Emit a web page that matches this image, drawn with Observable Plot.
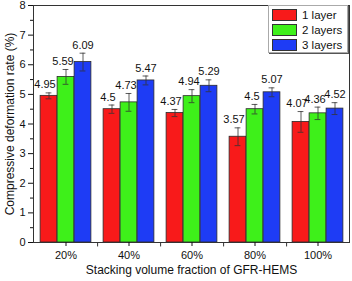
<!DOCTYPE html>
<html><head><meta charset="utf-8">
<script src="https://cdn.jsdelivr.net/npm/d3@7"></script>
<script src="https://cdn.jsdelivr.net/npm/@observablehq/plot@0.6"></script>
<style>
body{margin:0;background:#fff;}
#wrap{position:relative;width:352px;height:281px;font-family:"Liberation Sans",Arial,sans-serif;}
#legend{position:absolute;left:268px;top:5px;width:78px;height:46px;border:1px solid #aaa;box-shadow:1px 1px 0 #555;background:#fff;}
.row{position:absolute;left:3px;height:13px;display:flex;align-items:center;font-size:11.5px;color:#111;}
.sw{width:25px;height:12px;border:1px solid #333;box-sizing:border-box;margin-right:5px;}
</style>
</head><body>
<div id="wrap"></div>
<script>
const categories = ["20%", "40%", "60%", "80%", "100%"];
const seriesNames = ["1 layer", "2 layers", "3 layers"];
const layer1 = [4.95, 4.5, 4.37, 3.57, 4.07];
const layer2 = [5.59, 4.73, 4.94, 4.5, 4.36];
const layer3 = [6.09, 5.47, 5.29, 5.07, 4.52];
const err1 = [0.1, 0.14, 0.12, 0.3, 0.35];
const err2 = [0.25, 0.3, 0.22, 0.16, 0.21];
const err3 = [0.3, 0.15, 0.2, 0.15, 0.2];
const yTicks = [0, 1, 2, 3, 4, 5, 6, 7, 8];
const colors = ["#f81a1a", "#3ef01a", "#1e3cf5"];

const W = 352, H = 281, ML = 33, MR = 3, MT = 5, MB = 39;
const step = (W - ML - MR) / categories.length;
const barW = 17;
const inset = (step - barW) / 2;
const capInset = (step - 6) / 2;
const labelDx = [-4, -3, 0];

const values = [layer1, layer2, layer3];
const errs = [err1, err2, err3];

const marks = [];
values.forEach((vals, i) => {
  const rows = categories.map((c, j) => ({cat: c, value: vals[j], err: errs[i][j]}));
  const dx = (i - 1) * barW;
  marks.push(Plot.barY(rows, {x: "cat", y: "value", fill: colors[i], stroke: "#2a2a2a", strokeWidth: 0.8, insetLeft: inset, insetRight: inset, dx}));
  marks.push(Plot.ruleX(rows, {x: "cat", y1: d => d.value - d.err, y2: d => d.value + d.err, stroke: "#333", strokeWidth: 0.8, dx}));
  marks.push(Plot.tickY(rows, {x: "cat", y: d => d.value - d.err, stroke: "#333", strokeWidth: 0.8, insetLeft: capInset, insetRight: capInset, dx}));
  marks.push(Plot.tickY(rows, {x: "cat", y: d => d.value + d.err, stroke: "#333", strokeWidth: 0.8, insetLeft: capInset, insetRight: capInset, dx}));
  marks.push(Plot.text(rows, {x: "cat", y: d => d.value + d.err, text: d => String(d.value), dy: -8, dx: dx + labelDx[i], fontSize: 11, fill: "#111"}));
});

const chart = Plot.plot({
  width: W, height: H,
  marginLeft: ML, marginRight: MR, marginTop: MT, marginBottom: MB,
  style: {fontFamily: '"Liberation Sans", Arial, sans-serif', fontSize: "11px", background: "#fff", color: "#111", overflow: "visible"},
  x: {domain: categories, padding: 0, label: null},
  y: {domain: [0, 8], label: null},
  marks: [
    ...marks,
    Plot.frame({stroke: "#333", strokeWidth: 1}),
    Plot.axisY({ticks: yTicks, tickSize: 5, tickPadding: 3, fontSize: 11, label: null}),
    Plot.axisY({ticks: d3.range(0.5, 8, 1), tickSize: 3, text: null, label: null}),
    Plot.axisX({tickSize: 4, tickPadding: 5, fontSize: 11, label: null}),
    Plot.ruleX(categories.slice(0, -1), {x: d => d, dx: step / 2, y1: 0, y2: -0.15, stroke: "#333"}),
    Plot.text(["Stacking volume fraction of GFR-HEMS"], {frameAnchor: "bottom", dy: 31, text: d => d, fontSize: 12, fill: "#111"}),
    Plot.text(["Compressive deformation rate (%)"], {frameAnchor: "left", textAnchor: "middle", dx: -23, rotate: -90, text: d => d, fontSize: 12, fill: "#111"})
  ]
});

const wrap = document.getElementById("wrap");
wrap.appendChild(chart);
const legend = document.createElement("div");
legend.id = "legend";
seriesNames.forEach((name, i) => {
  const row = document.createElement("div");
  row.className = "row";
  row.style.top = (2 + i * 15) + "px";
  const sw = document.createElement("div");
  sw.className = "sw";
  sw.style.background = colors[i];
  const t = document.createElement("span");
  t.textContent = name;
  row.appendChild(sw);
  row.appendChild(t);
  legend.appendChild(row);
});
wrap.appendChild(legend);
</script>
</body></html>
